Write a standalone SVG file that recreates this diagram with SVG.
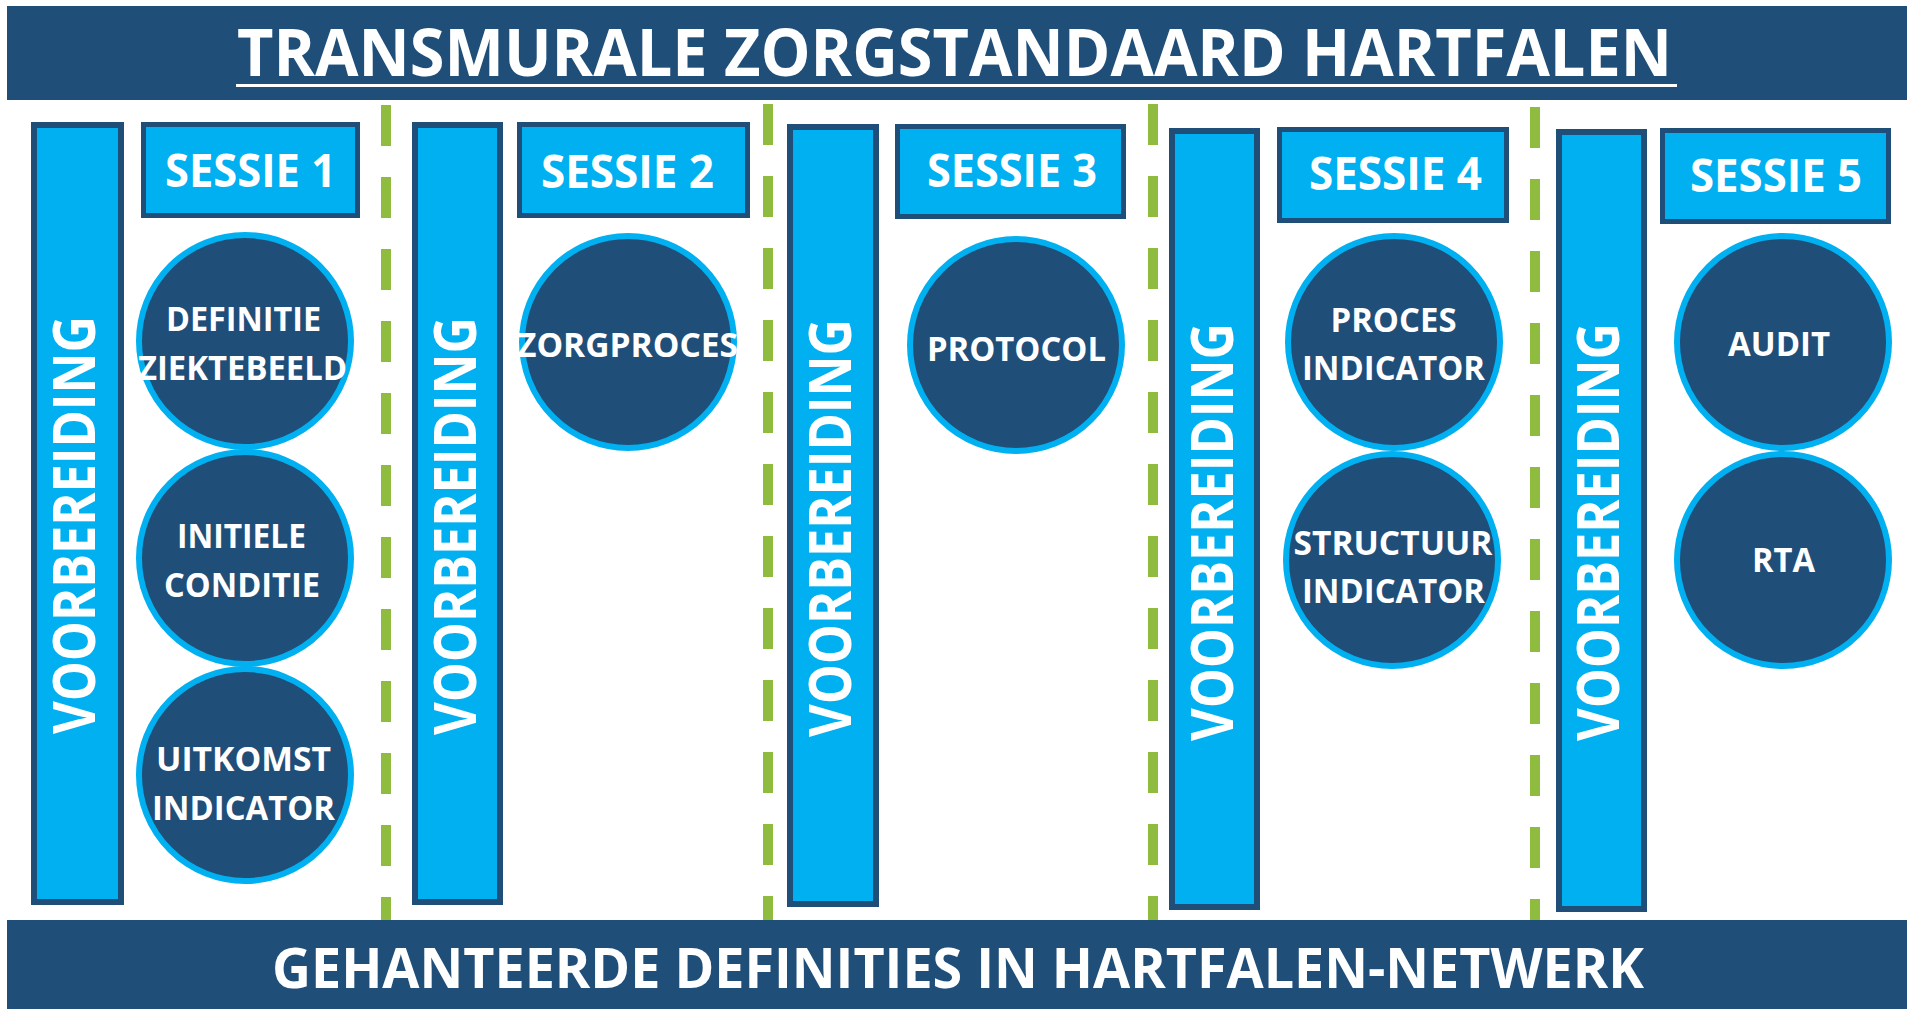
<svg xmlns="http://www.w3.org/2000/svg" width="1914" height="1009" viewBox="0 0 1914 1009">
<style>
.banner{fill:#1F4E79;}
.bar{fill:#00B0F0;stroke:#1F4E79;stroke-width:6;}
.box{fill:#00B0F0;stroke:#1F4E79;stroke-width:5;}
.circ{fill:#1F4E79;stroke:#00B0F0;stroke-width:6;}
.t{font-family:"Open Sans","Liberation Sans",sans-serif;font-weight:bold;fill:#FFFFFF;text-anchor:middle;}
.title{font-size:67px;}
.foot{font-size:56px;}
.ses{font-size:46px;}
.ct{font-size:34px;}
.vb{font-size:59px;}
.dash{stroke:#8FBC3F;stroke-width:10;stroke-dasharray:41 31;fill:none;}
</style>
<rect width="1914" height="1009" fill="#FFFFFF"/>
<g id="connectors">
<line class="dash" x1="386" y1="105" x2="386" y2="921"/>
<line class="dash" x1="768" y1="104" x2="768" y2="921"/>
<line class="dash" x1="1153" y1="104" x2="1153" y2="921"/>
<line class="dash" x1="1535" y1="107" x2="1535" y2="921"/>
</g>
<g id="header">
<rect class="banner" x="7" y="6" width="1900" height="94"/>
<text class="t title" x="954.5" y="76" textLength="1435" lengthAdjust="spacingAndGlyphs">TRANSMURALE ZORGSTANDAARD HARTFALEN</text>
<rect x="236" y="84" width="1441" height="3" fill="#FFFFFF"/>
</g>
<g id="footer">
<rect class="banner" x="7" y="920" width="1900" height="95"/>
<text class="t foot" x="958" y="988" textLength="1372" lengthAdjust="spacingAndGlyphs">GEHANTEERDE DEFINITIES IN HARTFALEN-NETWERK</text>
</g>
<g id="voorbereiding1">
<rect class="bar" x="34" y="125" width="87" height="777"/>
<text class="t vb" transform="translate(95,525) rotate(-90)" textLength="418" lengthAdjust="spacingAndGlyphs">VOORBEREIDING</text>
</g>
<g id="voorbereiding2">
<rect class="bar" x="415" y="125" width="85" height="777"/>
<text class="t vb" transform="translate(476,526) rotate(-90)" textLength="418" lengthAdjust="spacingAndGlyphs">VOORBEREIDING</text>
</g>
<g id="voorbereiding3">
<rect class="bar" x="790" y="127" width="86" height="777"/>
<text class="t vb" transform="translate(851,528) rotate(-90)" textLength="418" lengthAdjust="spacingAndGlyphs">VOORBEREIDING</text>
</g>
<g id="voorbereiding4">
<rect class="bar" x="1172" y="131" width="85" height="776"/>
<text class="t vb" transform="translate(1233,532) rotate(-90)" textLength="418" lengthAdjust="spacingAndGlyphs">VOORBEREIDING</text>
</g>
<g id="voorbereiding5">
<rect class="bar" x="1559" y="132" width="85" height="777"/>
<text class="t vb" transform="translate(1619,532) rotate(-90)" textLength="418" lengthAdjust="spacingAndGlyphs">VOORBEREIDING</text>
</g>
<g id="sessie1">
<rect class="box" x="143.5" y="124.5" width="214" height="91"/>
<text class="t ses" x="250.5" y="187" textLength="171" lengthAdjust="spacingAndGlyphs">SESSIE 1</text>
</g>
<g id="sessie2">
<rect class="box" x="519.5" y="124.5" width="228" height="91"/>
<text class="t ses" x="627.5" y="188" textLength="173" lengthAdjust="spacingAndGlyphs">SESSIE 2</text>
</g>
<g id="sessie3">
<rect class="box" x="897.5" y="126.5" width="226" height="90"/>
<text class="t ses" x="1012" y="187" textLength="170" lengthAdjust="spacingAndGlyphs">SESSIE 3</text>
</g>
<g id="sessie4">
<rect class="box" x="1279.5" y="129.5" width="227" height="91"/>
<text class="t ses" x="1395.5" y="190" textLength="173" lengthAdjust="spacingAndGlyphs">SESSIE 4</text>
</g>
<g id="sessie5">
<rect class="box" x="1662.5" y="130.5" width="226" height="91"/>
<text class="t ses" x="1776" y="192" textLength="172" lengthAdjust="spacingAndGlyphs">SESSIE 5</text>
</g>
<g id="definitie-ziektebeeld">
<circle class="circ" cx="245" cy="341" r="106"/>
<text class="t ct" x="243.5" y="331" textLength="155" lengthAdjust="spacingAndGlyphs">DEFINITIE</text>
<text class="t ct" x="242.5" y="380" textLength="209" lengthAdjust="spacingAndGlyphs">ZIEKTEBEELD</text>
</g>
<g id="initiele-conditie">
<circle class="circ" cx="245" cy="558" r="106"/>
<text class="t ct" x="241.5" y="548" textLength="129" lengthAdjust="spacingAndGlyphs">INITIELE</text>
<text class="t ct" x="242" y="597" textLength="156" lengthAdjust="spacingAndGlyphs">CONDITIE</text>
</g>
<g id="uitkomst-indicator">
<circle class="circ" cx="245" cy="775" r="106"/>
<text class="t ct" x="243.5" y="771" textLength="175" lengthAdjust="spacingAndGlyphs">UITKOMST</text>
<text class="t ct" x="243.5" y="820" textLength="183" lengthAdjust="spacingAndGlyphs">INDICATOR</text>
</g>
<g id="zorgproces">
<circle class="circ" cx="628" cy="342" r="106"/>
<text class="t ct" x="627.5" y="357" textLength="221" lengthAdjust="spacingAndGlyphs">ZORGPROCES</text>
</g>
<g id="protocol">
<circle class="circ" cx="1016" cy="345" r="106"/>
<text class="t ct" x="1016.5" y="361" textLength="179" lengthAdjust="spacingAndGlyphs">PROTOCOL</text>
</g>
<g id="proces-indicator">
<circle class="circ" cx="1394" cy="342" r="106"/>
<text class="t ct" x="1393.5" y="332" textLength="126" lengthAdjust="spacingAndGlyphs">PROCES</text>
<text class="t ct" x="1393.5" y="380" textLength="183" lengthAdjust="spacingAndGlyphs">INDICATOR</text>
</g>
<g id="structuur-indicator">
<circle class="circ" cx="1392" cy="560" r="106"/>
<text class="t ct" x="1393" y="555" textLength="199" lengthAdjust="spacingAndGlyphs">STRUCTUUR</text>
<text class="t ct" x="1393.5" y="603" textLength="183" lengthAdjust="spacingAndGlyphs">INDICATOR</text>
</g>
<g id="audit">
<circle class="circ" cx="1783" cy="342" r="106"/>
<text class="t ct" x="1779" y="356" textLength="102" lengthAdjust="spacingAndGlyphs">AUDIT</text>
</g>
<g id="rta">
<circle class="circ" cx="1783" cy="560" r="106"/>
<text class="t ct" x="1783.5" y="572" textLength="63" lengthAdjust="spacingAndGlyphs">RTA</text>
</g>
</svg>
